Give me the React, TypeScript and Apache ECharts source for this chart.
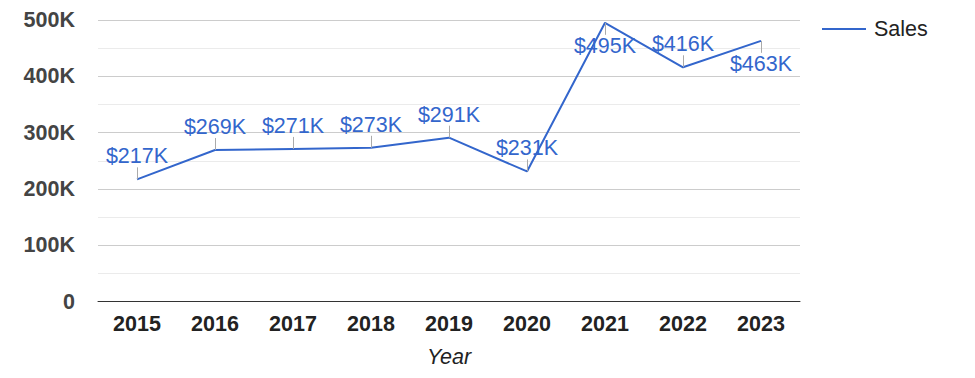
import React, { useEffect, useRef } from "react";
import * as echarts from "echarts";

const years = ["2015", "2016", "2017", "2018", "2019", "2020", "2021", "2022", "2023"];
const sales = [217000, 269000, 271000, 273000, 291000, 231000, 495000, 416000, 463000];
const seriesName = "Sales";
const xTitle = "Year";

const FONT = "'Liberation Sans', Arial, sans-serif";
const BLUE = "#3366cc";
const FS = 21.5;

export default function App() {
  const ref = useRef<HTMLDivElement>(null);
  useEffect(() => {
    const chart = echarts.init(ref.current!, null, { renderer: "svg" });
    chart.setOption({
      animation: false,
      backgroundColor: "#ffffff",
      grid: { left: 98, right: 175, top: 20, bottom: 76.5, containLabel: false },
      legend: {
        show: true,
        data: [{ name: seriesName, icon: "rect" }],
        left: 822,
        top: 18,
        padding: 0,
        itemWidth: 44,
        itemHeight: 2,
        textStyle: { fontFamily: FONT, fontSize: FS, color: "#222", padding: [0, 0, 0, 3] },
      },
      xAxis: {
        type: "category",
        data: years,
        boundaryGap: true,
        axisLine: { show: true, lineStyle: { color: "#333", width: 1 } },
        axisTick: { show: false },
        axisLabel: { fontFamily: FONT, fontSize: FS, fontWeight: "bold", color: "#222", margin: 11 },
        name: xTitle,
        nameLocation: "middle",
        nameGap: 44,
        nameTextStyle: { fontFamily: FONT, fontSize: FS, fontStyle: "italic", color: "#222" },
      },
      yAxis: {
        type: "value",
        min: 0,
        max: 500000,
        interval: 100000,
        axisLine: { show: false },
        axisTick: { show: false },
        axisLabel: {
          fontFamily: FONT,
          fontSize: FS,
          fontWeight: "bold",
          color: "#444",
          margin: 23,
          formatter: (v: number) => (v === 0 ? "0" : v / 1000 + "K"),
        },
        splitLine: { show: true, lineStyle: { color: "#cccccc", width: 1 } },
        minorTick: { show: false, splitNumber: 2 },
        minorSplitLine: { show: true, lineStyle: { color: "#ebebeb", width: 1 } },
      },
      series: [
        {
          name: seriesName,
          type: "line",
          data: sales,
          showSymbol: false,
          symbol: "none",
          lineStyle: { color: BLUE, width: 2 },
          itemStyle: { color: BLUE },
          z: 2,
        },
        {
          type: "custom",
          name: "labels",
          data: sales.map((v, i) => [i, v]),
          z: 3,
          renderItem: (params: any, api: any) => {
            const v = api.value(1);
            const pt = api.coord([api.value(0), v]);
            const x = Math.round(pt[0]) + 0.5;
            const y = pt[1];
            const dir = v > 440000 ? 1 : -1;
            return {
              type: "group",
              children: [
                {
                  type: "line",
                  shape: { x1: x, y1: y, x2: x, y2: y + dir * 12 },
                  style: { stroke: "#aaaaaa", lineWidth: 1 },
                },
                {
                  type: "text",
                  style: {
                    text: "$" + Math.round(v / 1000) + "K",
                    x: pt[0],
                    y: y + dir * 23,
                    align: "center",
                    verticalAlign: "middle",
                    fill: BLUE,
                    fontSize: FS,
                    fontFamily: FONT,
                  },
                },
              ],
            };
          },
        },
      ],
    });
    return () => chart.dispose();
  }, []);
  return <div ref={ref} style={{ position: "fixed", left: 0, top: 0, width: 975, height: 378 }} />;
}
